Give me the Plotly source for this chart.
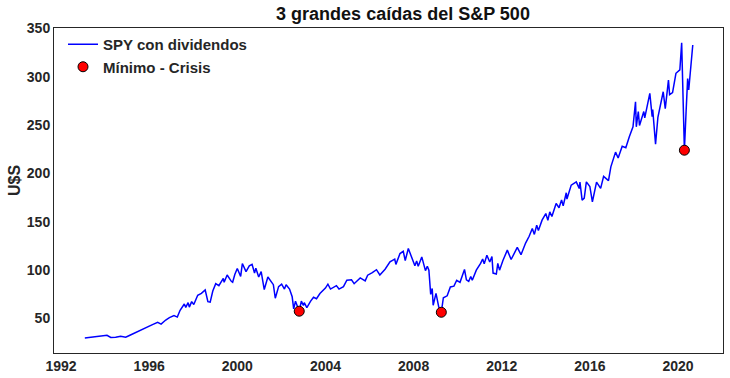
import plotly.graph_objects as go

# SPY adjusted series
dates = [
    "1993-01-29", "1993-04-15", "1993-07-15", "1993-10-15", "1994-01-31", "1994-04-04",
    "1994-06-24", "1994-09-15", "1994-12-08", "1995-02-15", "1995-05-15", "1995-08-15",
    "1995-11-15", "1996-02-15", "1996-05-20", "1996-07-16", "1996-10-01", "1996-12-01",
    "1997-02-15", "1997-04-11", "1997-05-27", "1997-08-05", "1997-08-29", "1997-10-07",
    "1997-10-27", "1997-12-05", "1998-01-09", "1998-03-15", "1998-05-15", "1998-07-17",
    "1998-08-31", "1998-10-08", "1998-11-20", "1999-01-08", "1999-03-01", "1999-05-13",
    "1999-05-27", "1999-07-16", "1999-09-23", "1999-10-15", "1999-11-20", "1999-12-31",
    "2000-02-25", "2000-03-24", "2000-05-24", "2000-07-17", "2000-09-01", "2000-10-12",
    "2000-11-03", "2000-12-20", "2001-01-30", "2001-03-22", "2001-05-21", "2001-06-30",
    "2001-08-20", "2001-09-21", "2001-11-15", "2002-01-04", "2002-02-20", "2002-03-19",
    "2002-05-15", "2002-06-28", "2002-07-23", "2002-08-22", "2002-09-20", "2002-10-23",
    "2002-11-27", "2002-12-31", "2003-01-14", "2003-02-26", "2003-04-30", "2003-06-17",
    "2003-08-05", "2003-10-01", "2003-12-31", "2004-02-10", "2004-03-24", "2004-06-30",
    "2004-08-12", "2004-10-25", "2004-12-20", "2005-03-07", "2005-04-20", "2005-07-30",
    "2005-10-20", "2005-11-30", "2006-02-15", "2006-04-25", "2006-06-20", "2006-09-15",
    "2006-12-05", "2007-02-22", "2007-03-13", "2007-05-20", "2007-07-13", "2007-08-15",
    "2007-10-05", "2007-11-26", "2008-01-22", "2008-02-20", "2008-03-17", "2008-05-15",
    "2008-07-15", "2008-08-15", "2008-09-10", "2008-10-10", "2008-11-04", "2008-11-20",
    "2009-01-06", "2009-02-20", "2009-04-04", "2009-05-08", "2009-07-10", "2009-09-01",
    "2009-10-30", "2009-12-15", "2010-02-08", "2010-04-23", "2010-05-25", "2010-07-02",
    "2010-08-05", "2010-08-30", "2010-11-05", "2011-01-15", "2011-02-18", "2011-03-16",
    "2011-04-29", "2011-06-16", "2011-07-22", "2011-08-10", "2011-10-03", "2011-10-27",
    "2011-11-25", "2012-01-20", "2012-04-02", "2012-06-04", "2012-09-14", "2012-11-15",
    "2013-01-30", "2013-03-30", "2013-05-21", "2013-06-24", "2013-08-02", "2013-08-30",
    "2013-10-30", "2013-12-31", "2014-02-03", "2014-03-07", "2014-04-11", "2014-06-20",
    "2014-08-07", "2014-09-18", "2014-10-15", "2014-12-05", "2014-12-16", "2015-02-25",
    "2015-05-20", "2015-07-08", "2015-07-20", "2015-08-25", "2015-09-29", "2015-11-03",
    "2015-12-31", "2016-02-11", "2016-04-20", "2016-06-27", "2016-08-15", "2016-11-04",
    "2016-12-13", "2017-03-01", "2017-04-13", "2017-06-19", "2017-08-18", "2017-10-15",
    "2017-12-15", "2018-01-26", "2018-02-08", "2018-03-13", "2018-04-02", "2018-06-12",
    "2018-06-28", "2018-09-20", "2018-10-29", "2018-11-07", "2018-12-24", "2019-02-01",
    "2019-04-30", "2019-06-03", "2019-07-26", "2019-08-14", "2019-10-02", "2019-11-27",
    "2020-01-31", "2020-03-01", "2020-04-15", "2020-05-14", "2020-06-08", "2020-06-26",
    "2020-07-22", "2020-08-10", "2020-09-01",
]
spy_values = [
    30.0, 30.4, 30.9, 31.6, 32.7, 30.4,
    30.6, 31.8, 30.8, 32.8, 35.5, 38.5,
    41.3, 43.5, 46.0, 44.2, 48.5, 51.0,
    53.0, 51.5, 58.5, 65.0, 61.5, 66.5,
    61.8, 67.5, 64.5, 74.0, 76.0, 79.5,
    67.5, 67.0, 78.5, 86.0, 84.0, 91.5,
    87.5, 95.0, 88.5, 87.5, 95.5, 101.7,
    93.5, 106.9, 98.5, 104.5, 106.0, 97.0,
    102.0, 93.0, 98.5, 80.0, 93.0, 89.0,
    85.0, 71.0, 83.0, 85.5, 80.5, 85.0,
    80.5, 72.5, 60.0, 68.0, 62.5, 57.6,
    68.0, 63.5, 66.5, 61.4, 68.0, 72.0,
    70.5, 75.9, 81.5, 85.5, 80.5, 84.0,
    80.5, 83.0, 89.6, 90.0, 86.0, 92.0,
    89.0, 94.8, 97.5, 100.5, 95.0, 101.0,
    108.6, 111.5, 106.0, 117.2, 119.5, 110.0,
    122.4, 113.5, 104.5, 109.5, 104.0, 113.7,
    99.5, 104.0, 100.0, 75.0, 81.0, 63.8,
    76.0, 62.1, 56.5, 71.5, 73.5, 82.7,
    83.5, 89.6, 87.5, 100.7, 90.0, 88.5,
    93.5, 89.5, 100.0, 107.0, 111.5, 106.5,
    115.5, 108.5, 114.0, 97.0, 96.0, 107.0,
    100.0, 110.0, 120.7, 111.0, 123.5, 116.0,
    128.0, 135.0, 143.1, 137.0, 146.5, 141.0,
    151.7, 158.5, 151.5, 160.3, 155.5, 169.0,
    164.5, 172.5, 166.5, 180.0, 173.5, 187.9,
    191.3, 184.5, 191.0, 172.4, 174.5, 191.3,
    186.5, 170.7, 191.0, 184.5, 197.0, 192.5,
    206.8, 222.0, 216.0, 228.0, 226.5, 238.0,
    248.2, 274.1, 248.2, 264.0, 249.5, 264.0,
    257.5, 282.8, 258.6, 266.0, 230.3, 258.0,
    284.4, 267.0, 296.5, 281.5, 283.5, 303.5,
    307.0, 335.1, 224.0, 265.0, 298.0, 286.2,
    303.4, 318.0, 332.7,
]

crisis_dates = ["2002-10-23", "2009-04-04", "2020-04-15"]
crisis_values = [57.6, 56.5, 224.0]

x_tick_years = [1992, 1996, 2000, 2004, 2008, 2012, 2016, 2020]
y_tick_values = [50, 100, 150, 200, 250, 300, 350]

FONT = "Liberation Sans, Arial, sans-serif"
TXT = "#262626"

fig = go.Figure()
fig.add_trace(go.Scatter(
    x=dates, y=spy_values, mode="lines", name="SPY con dividendos",
    line=dict(color="#0000ff", width=1.5),
))
fig.add_trace(go.Scatter(
    x=crisis_dates, y=crisis_values, mode="markers", name="Mínimo - Crisis",
    marker=dict(color="#ff0000", size=10, line=dict(color="#000000", width=1)),
))

fig.update_layout(
    template="none",
    autosize=False,
    width=730, height=378,
    margin=dict(l=54, r=7, t=28, b=25, pad=0),
    paper_bgcolor="white", plot_bgcolor="white",
    title=dict(
        text="3 grandes caídas del S&amp;P 500",
        font=dict(family=FONT, size=18, color="#111111", weight="bold"),
        x=(403 - 54) / 669, xref="paper", xanchor="center",
        y=1 - 14 / 378, yref="container", yanchor="middle",
    ),
    showlegend=True,
    legend=dict(
        x=9 / 669, y=1.0, xanchor="left", yanchor="top",
        font=dict(family=FONT, size=15, color=TXT, weight="bold"),
        bgcolor="rgba(0,0,0,0)", borderwidth=0,
    ),
    xaxis=dict(
        type="date",
        range=["1991-09-06", "2022-01-15"],
        tickvals=[f"{y}-01-01" for y in x_tick_years],
        ticktext=[str(y) for y in x_tick_years],
        tickfont=dict(family=FONT, size=14, color=TXT, weight="bold"),
        showgrid=False, zeroline=False, ticks="", automargin=False,
        showline=True, mirror=True, linecolor=TXT, linewidth=1,
    ),
    yaxis=dict(
        range=[14.4, 350.3],
        tickvals=y_tick_values,
        ticktext=[str(v) for v in y_tick_values],
        tickfont=dict(family=FONT, size=14, color=TXT, weight="bold"),
        showgrid=False, zeroline=False, ticks="", automargin=False,
        showline=True, mirror=True, linecolor=TXT, linewidth=1,
    ),
    annotations=[dict(
        text="U$S", textangle=-90, showarrow=False,
        xref="paper", yref="paper",
        x=(15 - 54) / 669, y=(353 - 181) / 325,
        xanchor="center", yanchor="middle",
        font=dict(family=FONT, size=16, color=TXT, weight="bold"),
    )],
)

post = (
    "document.body.style.margin='0';document.body.style.padding='0';"
    "document.body.style.overflow='hidden';"
    "var gd=document.getElementById('{plot_id}');"
    "Plotly.relayout(gd,{width:730,height:378});"
)
fig.write_html("out.html", config={"displayModeBar": False, "responsive": False},
               post_script=post)
